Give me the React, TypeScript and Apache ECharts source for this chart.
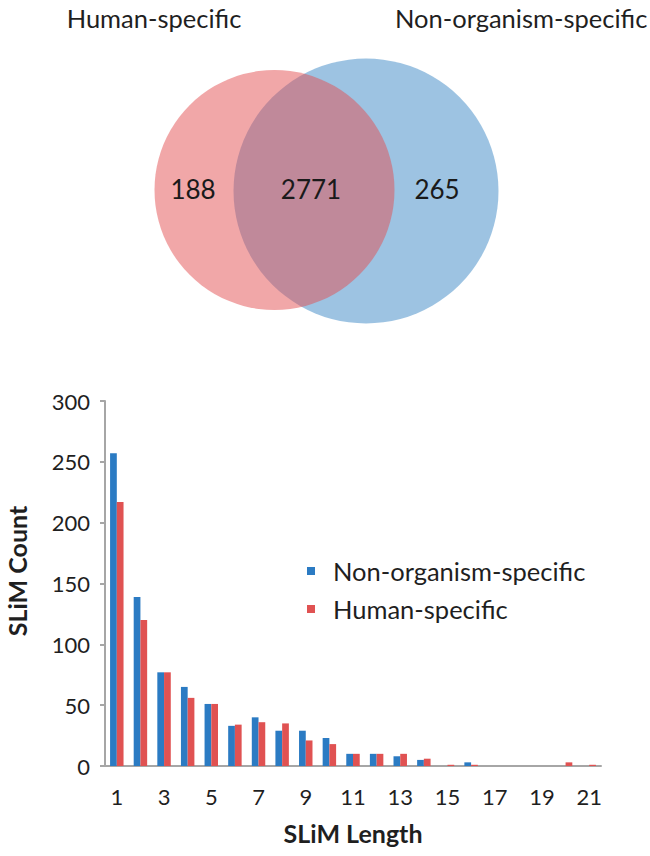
import React, { useEffect, useRef } from "react";
import * as echarts from "echarts";

// Venn diagram
const vennSets = ["Human-specific", "Non-organism-specific"];
const vennCounts = [188, 2771, 265]; // human only, both, non-organism only

// Bar chart
const slimLengths = ["1","2","3","4","5","6","7","8","9","10","11","12","13","14","15","16","17","18","19","20","21"];
const nonOrganismCounts = [257, 139, 77, 65, 51, 33, 40, 29, 29, 23, 10, 10, 8, 5, 0, 3, 0, 0, 0, 0, 0];
const humanCounts = [217, 120, 77, 56, 51, 34, 36, 35, 21, 18, 10, 10, 10, 6, 1, 1, 0, 0, 0, 3, 1];
const seriesNames = ["Non-organism-specific", "Human-specific"];

const FONT = "Lato";

export default function App() {
  const ref = useRef<HTMLDivElement>(null);
  useEffect(() => {
    if (!ref.current) return;
    const chart = echarts.init(ref.current, null, { renderer: "svg" });
    chart.setOption({
      animation: false,
      backgroundColor: "#ffffff",
      textStyle: { fontFamily: FONT },
      grid: { left: 105, right: 49, top: 401, bottom: 90, containLabel: false },
      legend: {
        data: seriesNames,
        orient: "vertical",
        left: 302,
        top: 553,
        itemWidth: 8,
        itemHeight: 8,
        itemGap: 12,
        icon: "rect",
        textStyle: { fontFamily: FONT, fontSize: 25.5, lineHeight: 25, color: "#1f1f1f", padding: [0, 0, 0, 13] },
      },
      xAxis: {
        type: "category",
        data: slimLengths,
        name: "SLiM Length",
        nameLocation: "middle",
        nameGap: 54,
        nameTextStyle: { fontFamily: FONT, fontSize: 25, fontWeight: "bold", color: "#1f1f1f" },
        axisLine: { lineStyle: { color: "#A6A6A6", width: 2 } },
        axisTick: { show: false },
        axisLabel: { interval: 1, margin: 19, fontFamily: FONT, fontSize: 22, color: "#1f1f1f" },
      },
      yAxis: {
        type: "value",
        min: 0,
        max: 300,
        interval: 50,
        axisLine: { show: true, lineStyle: { color: "#A6A6A6", width: 2 } },
        axisTick: { show: true, length: 5, lineStyle: { color: "#A6A6A6", width: 2 } },
        splitLine: { show: false },
        axisLabel: { margin: 15, fontFamily: FONT, fontSize: 22, color: "#1f1f1f" },
      },
      series: [
        {
          name: seriesNames[0],
          type: "bar",
          data: nonOrganismCounts,
          itemStyle: { color: "#2B7BC3" },
          barGap: "0%",
          barCategoryGap: "43%",
        },
        {
          name: seriesNames[1],
          type: "bar",
          data: humanCounts,
          itemStyle: { color: "#E05252" },
          barGap: "0%",
          barCategoryGap: "43%",
        },
      ],
      graphic: [
        {
          type: "circle",
          shape: { cx: 366, cy: 191, r: 132.5 },
          style: { fill: "rgba(59,135,197,0.5)" },
          z: 1,
        },
        {
          type: "circle",
          shape: { cx: 274.5, cy: 190, r: 120 },
          style: { fill: "rgba(227,79,81,0.5)" },
          z: 2,
        },
        {
          type: "text",
          x: 154, y: 18, z: 3,
          style: { text: vennSets[0], font: `25.5px ${FONT}`, fill: "#1f1f1f", textAlign: "center", textVerticalAlign: "middle" },
        },
        {
          type: "text",
          x: 395, y: 18, z: 3,
          style: { text: vennSets[1], font: `25.5px ${FONT}`, fill: "#1f1f1f", textAlign: "left", textVerticalAlign: "middle" },
        },
        {
          type: "text",
          x: 193, y: 189, z: 3,
          style: { text: String(vennCounts[0]), font: `26px ${FONT}`, fill: "#1a1a1a", textAlign: "center", textVerticalAlign: "middle" },
        },
        {
          type: "text",
          x: 311, y: 189, z: 3,
          style: { text: String(vennCounts[1]), font: `26px ${FONT}`, fill: "#1a1a1a", textAlign: "center", textVerticalAlign: "middle" },
        },
        {
          type: "text",
          x: 437, y: 189, z: 3,
          style: { text: String(vennCounts[2]), font: `26px ${FONT}`, fill: "#1a1a1a", textAlign: "center", textVerticalAlign: "middle" },
        },
        {
          type: "text",
          x: 17, y: 571, rotation: Math.PI / 2, z: 3,
          style: { text: "SLiM Count", font: `bold 25px ${FONT}`, fill: "#1f1f1f", textAlign: "center", textVerticalAlign: "middle" },
        },
      ],
    });
    return () => chart.dispose();
  }, []);
  return <div ref={ref} style={{ position: "fixed", left: 0, top: 0, width: 650, height: 856 }} />;
}
